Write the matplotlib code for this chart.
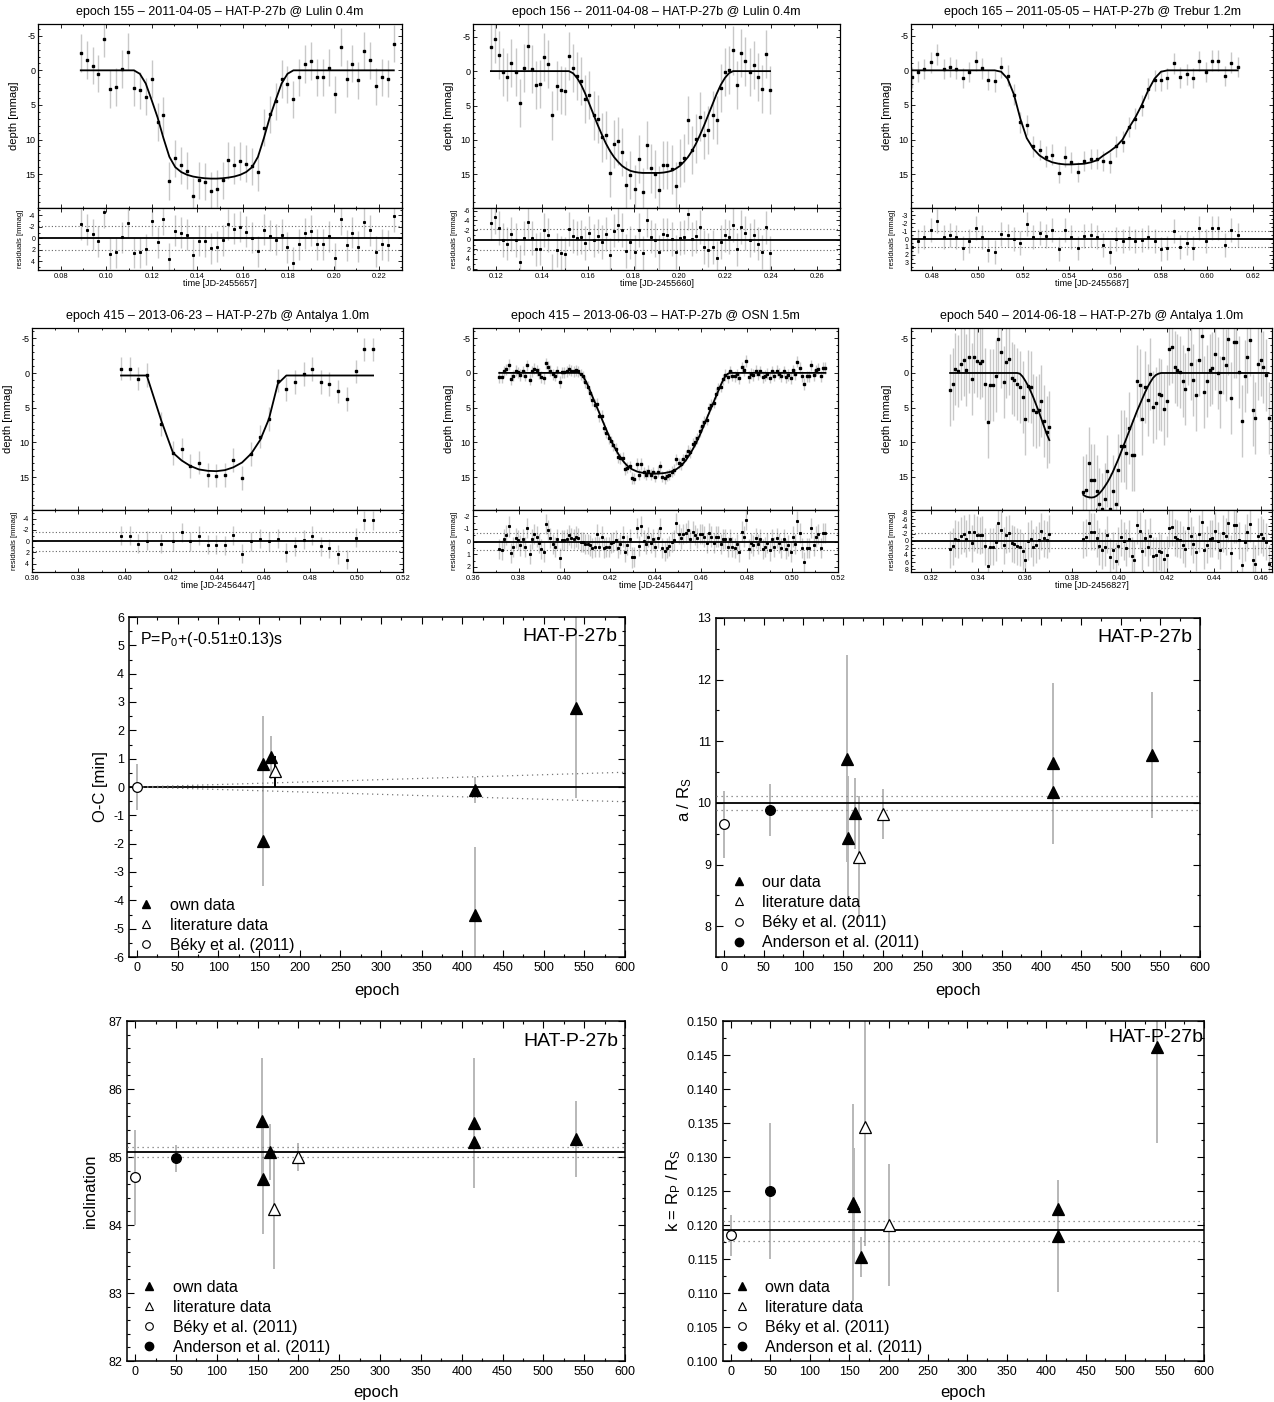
import numpy as np
import matplotlib.pyplot as plt
from matplotlib.ticker import MultipleLocator, FormatStrFormatter
from matplotlib.lines import Line2D

plt.rcParams['font.family'] = ['Liberation Sans', 'DejaVu Sans']
plt.rcParams['axes.unicode_minus'] = False
plt.rcParams['mathtext.fontset'] = 'custom'
plt.rcParams['mathtext.rm'] = 'Liberation Sans'
plt.rcParams['mathtext.it'] = 'Liberation Sans:italic'

W, H = 1274, 1402
GREY = '#c8c8c8'
EBAR = '#b8b8b8'

# ---------------- light curves (depth and model in mmag) ----------------
# epoch 155, Lulin 0.4m
t155 = np.linspace(0.0888, 0.2264, 54)
d155 = [-2.5, -1.5, -0.7, 0.5, -4.6, 2.7, 2.4, -0.2, -2.7, 2.5,
        2.9, 3.8, 1.25, 7.45, 6.5, 16.0, 12.7, 13.75, 14.5, 18.2,
        15.9, 16.1, 17.4, 17.1, 15.9, 13.0, 13.7, 13.1, 13.5, 13.9,
        14.7, 8.3, 6.35, 4.5, 1.25, 2.0, 4.2, 1.0, -0.9, -1.35,
        1.0, 1.0, -0.4, 3.45, -3.35, 1.2, -0.95, 1.45, -2.8, -1.45,
        2.3, 1.0, 1.2, -3.85]
m155 = [0.0] * 10 + [0.5, 1.9, 4.3, 6.8, 9.8, 12.5, 14.0, 14.7, 15.1, 15.35,
                     15.5, 15.6, 15.65, 15.65, 15.6, 15.5, 15.35, 15.1, 14.7, 14.0,
                     12.5, 9.8, 6.8, 4.3, 1.9, 0.5] + [0.0] * 18

# epoch 156, Lulin 0.4m
t156 = np.linspace(0.1178, 0.2395, 69)
d156 = [-3.45, -4.65, -2.4, 0.1, 0.8, -1.2, 0.1, 4.65, -0.4, -3.6,
        -0.3, 2.0, 1.85, -2.0, -1.0, 6.45, 2.1, 2.75, 2.9, -2.25,
        -0.5, 0.7, 1.45, 4.0, 3.45, 6.45, 7.0, 9.65, 9.3, 14.75,
        10.6, 10.2, 11.8, 16.55, 15.05, 17.15, 12.75, 17.6, 10.75, 14.15,
        14.9, 17.3, 13.65, 13.6, 14.3, 16.75, 13.4, 12.65, 7.05, 11.5,
        9.8, 6.6, 9.3, 8.5, 6.35, 7.1, 2.5, 0.1, -0.2, -3.0,
        2.0, -2.6, -1.4, 0.1, -0.9, 0.8, 2.55, -2.55, 2.75]
m156 = [0.0] * 20 + [0.3, 1.0, 2.0, 3.3, 4.8, 6.3, 7.8, 9.2, 10.5, 11.6,
                     12.5, 13.2, 13.8, 14.2, 14.5, 14.65, 14.75,
                     14.8, 14.8, 14.8, 14.8, 14.8,
                     14.75, 14.65, 14.5, 14.2, 13.8, 13.2, 12.5, 11.6, 10.5, 9.2,
                     7.8, 6.3, 4.8, 3.3, 2.0, 1.0, 0.3] + [0.0] * 10

# epoch 165, Trebur 1.2m
t165 = np.linspace(0.4713, 0.6133, 52)
d165 = [1.0, 0.2, -0.2, -1.15, -2.3, -0.2, -0.5, -0.2, 1.1, 0.25,
        -1.35, -0.3, 1.4, 1.6, -0.45, 0.75, 3.5, 7.5, 7.9, 11.0,
        11.5, 12.5, 12.2, 14.8, 12.5, 13.3, 14.7, 13.1, 12.8, 12.8,
        13.1, 13.3, 11.0, 10.3, 8.2, 7.0, 5.1, 2.65, 1.45, 1.45,
        1.15, -1.0, 1.0, 0.55, 1.1, -1.35, 0.25, -1.4, -1.4, 0.8,
        -1.1, -0.5]
m165 = [0.0] * 14 + [0.2, 1.2, 3.5, 7.0, 9.8, 11.3, 12.3, 12.9, 13.3, 13.5,
                     13.6, 13.6, 13.55, 13.5, 13.3, 13.0, 12.3, 11.7, 11.0, 10.0,
                     8.3, 6.8, 5.0, 2.9, 1.2, 0.2] + [0.0] * 12

# epoch 415, Antalya 1.0m
t415a = [0.3984, 0.4021, 0.4057, 0.4095, 0.4158, 0.4208, 0.4245, 0.4283, 0.4320,
         0.4358, 0.4395, 0.4432, 0.4468, 0.4506, 0.4546, 0.4585, 0.4622, 0.4660,
         0.4697, 0.4734, 0.4772, 0.4809, 0.4845, 0.4882, 0.4920, 0.4957, 0.4996,
         0.5033, 0.5071]
d415a = [-0.65, -0.65, 0.8, 0.25, 7.35, 11.5, 11.0, 13.4, 12.9, 14.7,
         14.8, 14.7, 12.55, 15.15, 11.65, 9.15, 6.6, 1.1, 2.3, 1.3,
         0.1, -0.6, 1.25, 1.6, 2.65, 3.7, -0.25, -3.4, -3.4]
m415a = [0.35] * 4 + [6.9, 11.5, 12.6, 13.4, 13.9, 14.1, 14.15, 14.0, 13.6, 12.9,
                      11.6, 9.6, 6.6, 1.55] + [0.35] * 11

# epoch 415, OSN 1.5m
t415o = np.linspace(0.3715, 0.5145, 141)
d415o = [0.6, 0.65, -0.2, -0.5, -1.2, 0.9, 0.4, -0.3, -0.1, 0.3,
         -0.2, 0.4, -1.1, 1.0, -0.2, -0.6, -0.4, 0.1, 0.6, 0.8,
         -1.4, -0.9, -0.3, 0.2, 0.4, -0.2, 1.3, -0.1, -0.1, -0.2,
         -0.5, -0.3, -0.2, -0.4, -0.25,
         0.2, 0.5, 1.3, 2.0, 2.9, 3.9, 4.6, 4.4, 6.2, 6.2,
         7.9, 8.6, 9.4, 9.8, 10.4, 10.9, 12.1, 12.3, 12.2, 13.8,
         13.6, 13.4, 15.1, 15.2, 13.1, 14.6, 13.1, 14.3, 14.6, 14.1,
         14.6, 14.3, 14.9, 14.2, 13.4, 14.9, 15.1, 14.8, 14.6, 14.2,
         13.9, 12.4, 13.0, 13.1, 12.4, 11.9, 11.2, 11.4, 10.2, 9.9,
         9.4, 8.4, 7.6, 7.0, 6.7, 5.1, 4.6, 4.3, 3.0, 2.2,
         2.0, 0.9, 0.3, 0.6, -0.2,
         0.4, 0.5, 0.2, 0.8, -0.8, -0.4, -1.7, 0.6, 0.1, 0.3,
         -0.3, 0.2, -0.2, 0.6, 0.4, 0.1, 0.7, -0.2, 0.4, -0.3,
         0.1, 0.5, -0.2, 0.6, 0.3, 0.8, -0.4, 0.2, -1.6, -0.7,
         0.5, 1.6, 0.5, 0.5, -1.1, 0.3, -0.4, -0.6, 0.5, -0.7,
         -0.7]
ing415o = [0.0, 0.15, 0.5, 1.1, 1.8, 2.6, 3.4, 4.2, 5.0, 5.8,
           6.6, 7.4, 8.2, 9.0, 9.7, 10.4, 11.0, 11.6, 12.1, 12.6,
           13.0, 13.35, 13.6, 13.85, 14.0, 14.15, 14.25, 14.32, 14.38, 14.42,
           14.45, 14.47, 14.48]
m415o = [0.0] * 34 + ing415o + ing415o[::-1] + [0.0] * 41

# epoch 540, Antalya 1.0m (two parts, gap at mid-transit)
t540a = np.linspace(0.3281, 0.3702, 38)
d540a = [2.4, 1.6, -0.6, -0.25, -1.35, -1.9, -0.5, -2.3, 0.8, -2.3,
         -1.7, -1.5, -1.7, 1.6, 7.05, 1.75, 1.7, 0.5, -4.95, -3.0,
         1.25, -1.6, -2.05, 0.7, 1.05, 1.6, 2.0, 3.45, 6.6, 1.9,
         2.0, 5.4, 5.7, 5.4, 4.0, 7.0, 8.55, 7.75]
m540a = [0.0] * 26 + [0.1, 0.5, 1.1, 1.8, 2.6, 3.5, 4.5, 5.5, 6.6, 7.7, 8.8, 9.7]
t540b = np.linspace(0.3846, 0.4633, 70)
d540b = [17.2, 16.9, 13.0, 15.5, 15.5, 17.1, 19.0, 19.7, 18.2, 14.1,
         19.6, 17.0, 19.0, 14.0, 10.5, 10.6, 11.5, 7.9, 11.8, 11.8,
         1.2, 1.8, 6.6, 2.0, 3.9, 0.1, 4.9, 4.4, 3.0, 3.2,
         5.2, 4.0, -3.5, -3.7, -0.9, -0.5, -0.2, 1.2, 2.3, -3.5,
         -1.3, 1.05, 3.25, -1.9, -5.35, 2.75, 1.15, -0.5, -0.7, -2.7,
         0.0, 2.75, -2.1, -1.2, -4.95, 3.55, -4.5, -4.5, -0.1, 6.9,
         0.5, -2.3, -4.8, 5.3, 6.45, -1.25, -1.85, -0.8, 0.3, 6.5]
m540b = [17.6, 17.85, 17.95, 18.0, 17.95, 17.75, 17.4, 16.95, 16.4, 15.8,
         15.1, 14.3, 13.4, 12.5, 11.5, 10.5, 9.5, 8.5, 7.5, 6.5,
         5.5, 4.6, 3.7, 2.8, 2.0, 1.3, 0.7, 0.3, 0.1] + [0.0] * 41

# ---------------- parameters vs epoch ----------------
# O-C [min]
oc_own_ep = [155, 155, 165, 415, 415, 540]
oc_own = [0.8, -1.9, 1.05, -0.1, -4.5, 2.8]
oc_own_err = [1.7, 1.6, 0.75, 0.45, 2.4, 3.2]
oc_lit_ep = [170]
oc_lit = [0.55]
oc_lit_err = [0.55]
oc_beky = [0.0]
oc_beky_err = [0.8]
oc_env_ep = [0, 600]
oc_env = [0.0, 0.52]

# a / R_S
ar_own_ep = [155, 156, 165, 415, 415, 540]
ar_own = [10.72, 9.43, 9.83, 10.64, 10.18, 10.78]
ar_own_err = [1.68, 1.0, 0.58, 1.31, 0.35, 1.02]
ar_lit_ep = [170, 200]
ar_lit = [9.12, 9.82]
ar_lit_err = [1.0, 0.4]
ar_beky, ar_beky_err = [9.65], [0.55]
ar_and_ep, ar_and, ar_and_err = [58], [9.88], [0.42]
ar_mean, ar_lo, ar_hi = 10.0, 9.88, 10.12

# inclination
in_own_ep = [155, 156, 165, 415, 415, 540]
in_own = [85.53, 84.68, 85.07, 85.5, 85.22, 85.27]
in_own_err = [0.93, 0.81, 0.41, 0.96, 0.3, 0.56]
in_lit_ep = [170, 200]
in_lit = [84.23, 85.0]
in_lit_err = [0.88, 0.2]
in_beky, in_beky_err = [84.7], [0.7]
in_and_ep, in_and, in_and_err = [50], [84.98], [0.2]
in_mean, in_lo, in_hi = 85.07, 85.0, 85.15

# k = Rp / Rs
k_own_ep = [155, 156, 165, 415, 415, 540]
k_own = [0.1233, 0.1228, 0.1153, 0.1224, 0.1184, 0.1462]
k_own_err = [0.0145, 0.0085, 0.003, 0.0041, 0.0082, 0.0142]
k_lit_ep = [170, 200]
k_lit = [0.1344, 0.1200]
k_lit_err = [0.0175, 0.009]
k_beky, k_beky_err = [0.1185], [0.003]
k_and_ep, k_and, k_and_err = [50], [0.125], [0.010]
k_mean, k_lo, k_hi = 0.1192, 0.1177, 0.1206

fig = plt.figure(figsize=(W / 100, H / 100), dpi=100)


def axes_px(l, t, r, b):
    return fig.add_axes([l / W, 1 - b / H, (r - l) / W, (b - t) / H])


def lc_panel(l, r, top, mid, bot, segs, err, xlim, ylim, rlim, rstep, rms, title, xlabel):
    ax = axes_px(l, top, r, mid)
    axr = axes_px(l, mid, r, bot)
    for t, d, m in segs:
        t, d, m = np.asarray(t), np.asarray(d), np.asarray(m)
        ax.errorbar(t, d, yerr=err, fmt='none', ecolor=GREY, elinewidth=1.0, zorder=1)
        ax.plot(t, m, color='k', lw=1.3, zorder=2)
        ax.plot(t, d, 's', color='k', ms=1.8, zorder=3)
        res = d - m
        axr.errorbar(t, res, yerr=err, fmt='none', ecolor=GREY, elinewidth=1.0, zorder=1)
        axr.plot(t, res, 's', color='k', ms=1.2, zorder=3)
    axr.axhline(0, color='k', lw=1.3, zorder=2)
    for s in (rms, -rms):
        axr.axhline(s, color='#666666', lw=0.8, ls=(0, (1, 2)), zorder=2)
    for a in (ax, axr):
        a.set_xlim(xlim)
        a.xaxis.set_major_locator(MultipleLocator(0.02))
        a.xaxis.set_minor_locator(MultipleLocator(0.01))
        a.tick_params(which='both', direction='in', top=True, right=True,
                      width=0.6, labelsize=5.5, pad=2)
        a.tick_params(which='major', length=3)
        a.tick_params(which='minor', length=1.5)
        for sp in a.spines.values():
            sp.set_linewidth(0.9)
    ax.tick_params(labelbottom=False, labelsize=6.5)
    ax.set_ylim(ylim)
    ax.yaxis.set_major_locator(MultipleLocator(5))
    ax.yaxis.set_minor_locator(MultipleLocator(1))
    axr.set_ylim(rlim)
    axr.tick_params(axis='y', labelsize=5)
    axr.yaxis.set_major_locator(MultipleLocator(rstep))
    axr.yaxis.set_minor_locator(MultipleLocator(rstep / 2))
    axr.xaxis.set_major_formatter(FormatStrFormatter('%.2f'))
    fig.text((l + r) / 2 / W, 1 - (top - 12) / H, title, ha='center', va='center', fontsize=9)
    fig.text((l + r) / 2 / W, 1 - (bot + 13) / H, xlabel, ha='center', va='center', fontsize=6.5)
    fig.text((l - 24) / W, 1 - (top + mid) / 2 / H, 'depth [mmag]', rotation=90,
             ha='center', va='center', fontsize=8)
    fig.text((l - 18) / W, 1 - (mid + bot) / 2 / H, 'residuals [mmag]', rotation=90,
             ha='center', va='center', fontsize=5.5)


lc_panel(38, 402, 24, 208, 270, [(t155, d155, m155)], 2.7, (0.07, 0.23), (19.9, -6.7),
         (5.5, -5.3), 2, 2.1, 'epoch 155 – 2011-04-05 – HAT-P-27b @ Lulin 0.4m', 'time [JD-2455657]')
lc_panel(473, 840, 24, 208, 270, [(t156, d156, m156)], 3.5, (0.11, 0.27), (19.9, -6.85),
         (6.3, -6.6), 2, 2.2, 'epoch 156 -- 2011-04-08 – HAT-P-27b @ Lulin 0.4m', 'time [JD-2455660]')
lc_panel(911, 1273, 24, 208, 270, [(t165, d165, m165)], 1.5, (0.471, 0.6287), (19.9, -6.7),
         (3.9, -3.9), 1, 1.0, 'epoch 165 – 2011-05-05 – HAT-P-27b @ Trebur 1.2m', 'time [JD-2455687]')
lc_panel(32, 403, 328, 510, 572, [(t415a, d415a, m415a)], 1.7, (0.36, 0.52), (19.75, -6.5),
         (5.5, -5.55), 2, 1.7, 'epoch 415 – 2013-06-23 – HAT-P-27b @ Antalya 1.0m', 'time [JD-2456447]')
lc_panel(473, 838, 328, 510, 572, [(t415o, d415o, m415o)], 0.8, (0.36, 0.52), (19.7, -6.45),
         (2.4, -2.5), 1, 0.7, 'epoch 415 – 2013-06-03 – HAT-P-27b @ OSN 1.5m', 'time [JD-2456447]')
lc_panel(911, 1272, 328, 510, 572, [(t540a, d540a, m540a), (t540b, d540b, m540b)], 5.2,
         (0.3115, 0.4647), (19.8, -6.5), (8.8, -8.6), 2, 2.2,
         'epoch 540 – 2014-06-18 – HAT-P-27b @ Antalya 1.0m', 'time [JD-2456827]')


def par_panel(l, t, r, b, ylim, ymaj, ymin, fmt):
    ax = axes_px(l, t, r, b)
    ax.set_xlim(-10, 600)
    ax.set_ylim(ylim)
    ax.xaxis.set_major_locator(MultipleLocator(50))
    ax.xaxis.set_minor_locator(MultipleLocator(25))
    ax.yaxis.set_major_locator(MultipleLocator(ymaj))
    ax.yaxis.set_minor_locator(MultipleLocator(ymin))
    ax.yaxis.set_major_formatter(FormatStrFormatter(fmt))
    ax.tick_params(which='both', direction='in', top=True, right=True, width=0.8, labelsize=9)
    ax.tick_params(which='major', length=5)
    ax.tick_params(which='minor', length=2.5)
    for sp in ax.spines.values():
        sp.set_linewidth(1.1)
    return ax


def pts(ax, x, y, e, marker, face, ecol=EBAR, ms=8):
    ax.errorbar(x, y, yerr=e, fmt='none', ecolor=ecol, elinewidth=1.4, zorder=2)
    ax.plot(x, y, ls='none', marker=marker, ms=ms, mfc=face, mec='k', mew=0.9, zorder=4)


def handles(own_label, with_anderson=True):
    h = [Line2D([], [], ls='none', marker='^', ms=6, mfc='k', mec='k'),
         Line2D([], [], ls='none', marker='^', ms=6, mfc='white', mec='k', mew=0.8),
         Line2D([], [], ls='none', marker='o', ms=5.5, mfc='white', mec='k', mew=0.8)]
    labels = [own_label, 'literature data', 'Béky et al. (2011)']
    if with_anderson:
        h.append(Line2D([], [], ls='none', marker='o', ms=6, mfc='k', mec='k'))
        labels.append('Anderson et al. (2011)')
    return h, labels


def add_legend(ax, own_label, with_anderson, x0, y0):
    h, lab = handles(own_label, with_anderson)
    ax.legend(h, lab, loc='lower left', bbox_to_anchor=(x0, y0), frameon=False, fontsize=11.5,
              handlelength=1.0, handletextpad=0.95, labelspacing=0.32, borderpad=0,
              borderaxespad=0)


def star_label(ax, x, y):
    ax.text(x, y, 'HAT-P-27b', transform=ax.transAxes, ha='right', va='top', fontsize=14)


# O-C
ax = par_panel(129, 617, 625, 957, (-6, 6), 1, 0.5, '%g')
ax.axhline(0, color='k', lw=1.3, zorder=3)
ax.plot(oc_env_ep, oc_env, color='#777777', lw=0.9, ls=(0, (1, 3)), zorder=3)
ax.plot(oc_env_ep, [-v for v in oc_env], color='#777777', lw=0.9, ls=(0, (1, 3)), zorder=3)
pts(ax, oc_own_ep, oc_own, oc_own_err, '^', 'k')
pts(ax, oc_lit_ep, oc_lit, oc_lit_err, '^', 'white', ecol='k')
pts(ax, [0], oc_beky, oc_beky_err, 'o', 'white', ms=7)
add_legend(ax, 'own data', False, 0.019, 0.012)
star_label(ax, 0.984, 0.968)
ax.text(0.022, 0.962, 'P=P$_0$+(-0.51±0.13)s', transform=ax.transAxes, ha='left', va='top', fontsize=11.5)
fig.text(100 / W, 1 - 787 / H, 'O-C [min]', rotation=90, ha='center', va='center', fontsize=12)
fig.text(377 / W, 1 - 990 / H, 'epoch', ha='center', va='center', fontsize=12)

# a / R_S
ax = par_panel(716, 618, 1200, 957, (7.5, 13), 1, 0.5, '%g')
ax.axhline(ar_mean, color='k', lw=1.3, zorder=3)
for v in (ar_lo, ar_hi):
    ax.axhline(v, color='#777777', lw=0.9, ls=(0, (1, 3)), zorder=3)
pts(ax, ar_own_ep, ar_own, ar_own_err, '^', 'k')
pts(ax, ar_lit_ep, ar_lit, ar_lit_err, '^', 'white')
pts(ax, [0], ar_beky, ar_beky_err, 'o', 'white', ms=7)
pts(ax, ar_and_ep, ar_and, ar_and_err, 'o', 'k', ms=7)
add_legend(ax, 'our data', True, 0.031, 0.02)
star_label(ax, 0.985, 0.968)
fig.text(685 / W, 1 - 800 / H, 'a / R$_\\mathrm{S}$', rotation=90, ha='center', va='center', fontsize=12)
fig.text(958 / W, 1 - 990 / H, 'epoch', ha='center', va='center', fontsize=12)

# inclination
ax = par_panel(127, 1021, 625, 1361, (82, 87), 1, 0.2, '%g')
ax.axhline(in_mean, color='k', lw=1.3, zorder=3)
for v in (in_lo, in_hi):
    ax.axhline(v, color='#777777', lw=0.9, ls=(0, (1, 3)), zorder=3)
pts(ax, in_own_ep, in_own, in_own_err, '^', 'k')
pts(ax, in_lit_ep, in_lit, in_lit_err, '^', 'white')
pts(ax, [0], in_beky, in_beky_err, 'o', 'white', ms=7)
pts(ax, in_and_ep, in_and, in_and_err, 'o', 'k', ms=7)
add_legend(ax, 'own data', True, 0.029, 0.018)
star_label(ax, 0.986, 0.965)
fig.text(90 / W, 1 - 1191 / H, 'inclination', rotation=90, ha='center', va='center', fontsize=12)
fig.text(376 / W, 1 - 1392 / H, 'epoch', ha='center', va='center', fontsize=12)

# k = Rp / Rs
ax = par_panel(723, 1021, 1204, 1361, (0.100, 0.150), 0.005, 0.0025, '%.3f')
ax.axhline(k_mean, color='k', lw=1.3, zorder=3)
for v in (k_lo, k_hi):
    ax.axhline(v, color='#777777', lw=0.9, ls=(0, (1, 3)), zorder=3)
pts(ax, k_own_ep, k_own, k_own_err, '^', 'k')
pts(ax, k_lit_ep, k_lit, k_lit_err, '^', 'white')
pts(ax, [0], k_beky, k_beky_err, 'o', 'white', ms=7)
pts(ax, k_and_ep, k_and, k_and_err, 'o', 'k', ms=7)
add_legend(ax, 'own data', True, 0.022, 0.018)
star_label(ax, 0.998, 0.976)
fig.text(674 / W, 1 - 1191 / H, 'k = R$_\\mathrm{P}$ / R$_\\mathrm{S}$', rotation=90,
         ha='center', va='center', fontsize=12)
fig.text(963 / W, 1 - 1392 / H, 'epoch', ha='center', va='center', fontsize=12)

fig.savefig('out.png', dpi=100)
